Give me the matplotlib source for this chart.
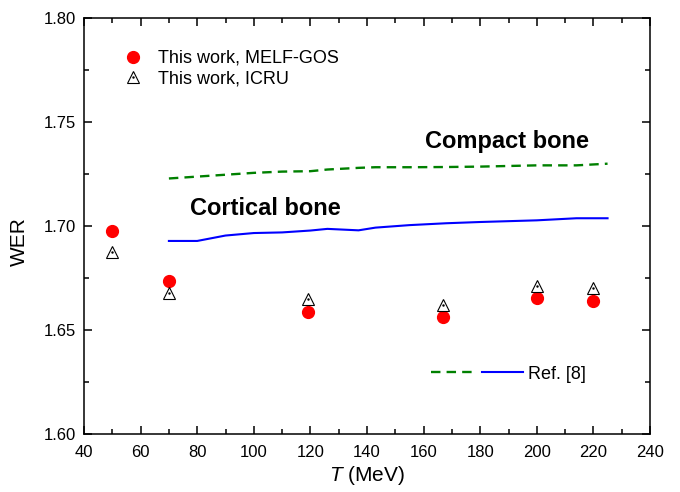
"""
WER vs proton energy for cortical / compact bone
"""
import matplotlib
matplotlib.use('Agg')
import matplotlib.pyplot as plt
from matplotlib.legend_handler import HandlerTuple
from matplotlib.ticker import MultipleLocator

plt.rcParams['font.family'] = ['Liberation Sans', 'DejaVu Sans']
plt.rcParams['mathtext.fontset'] = 'custom'
plt.rcParams['mathtext.it'] = 'Liberation Sans:italic'
plt.rcParams['mathtext.rm'] = 'Liberation Sans'

# --- this work (points) ---
T_pts     = [50, 70, 119, 167, 200, 220]
wer_melf  = [1.6976, 1.6735, 1.6588, 1.6563, 1.6652, 1.6638]
wer_icru  = [1.6874, 1.6675, 1.6650, 1.6618, 1.6712, 1.6700]

# --- Ref. [8] (lines) ---
T_ref        = [70, 80, 90, 100, 110, 120, 126, 137, 143, 155, 168, 180, 200, 214, 225]
wer_cortical = [1.6927, 1.6927, 1.6953, 1.6965, 1.6968, 1.6977, 1.6985, 1.6978,
                1.6991, 1.7003, 1.7012, 1.7018, 1.7026, 1.7036, 1.7036]
wer_compact  = [1.7227, 1.7236, 1.7245, 1.7254, 1.7260, 1.7262, 1.7270, 1.7278,
                1.7281, 1.7281, 1.7282, 1.7284, 1.7290, 1.7290, 1.7298]

fig = plt.figure(figsize=(6.8, 4.92), dpi=100)
ax = fig.add_axes([84/680, 1 - 434/492, 566/680, 416.5/492])

ln_comp, = ax.plot(T_ref, wer_compact, color='#008000', lw=1.7, ls=(0, (4, 2.6)))
ln_cort, = ax.plot(T_ref, wer_cortical, color='#0000ff', lw=1.5)

pt_melf, = ax.plot(T_pts, wer_melf, 'o', color='#ff0000', ms=8.5, mec='#ff0000', ls='none')
pt_icru, = ax.plot(T_pts, wer_icru, '^', mfc='white', mec='black', mew=0.8, ms=9, ls='none')
pt_dot,  = ax.plot(T_pts, wer_icru, '.', color='black', ms=1.5, ls='none')

ax.text(77.5, 1.7083, 'Cortical bone', fontsize=17, fontweight='bold', va='center', ha='left')
ax.text(160.5, 1.7403, 'Compact bone', fontsize=17, fontweight='bold', va='center', ha='left')

ax.set_xlim(40, 240)
ax.set_ylim(1.60, 1.80)
ax.xaxis.set_major_locator(MultipleLocator(20))
ax.xaxis.set_minor_locator(MultipleLocator(10))
ax.yaxis.set_major_locator(MultipleLocator(0.05))
ax.yaxis.set_minor_locator(MultipleLocator(0.025))
ax.yaxis.set_major_formatter(matplotlib.ticker.FormatStrFormatter('%.2f'))
ax.tick_params(which='both', direction='in', top=True, right=True, width=1.1, labelsize=12)
ax.tick_params(which='major', length=6, pad=6)
ax.tick_params(axis='x', which='major', pad=8)
ax.tick_params(which='minor', length=3.5)
for s in ax.spines.values():
    s.set_linewidth(1.1)

ax.set_xlabel(r'$T$ (MeV)', fontsize=15, labelpad=3)
ax.set_ylabel('WER', fontsize=15)
ax.yaxis.set_label_coords(-0.097, 0.463)

leg1 = ax.legend([pt_melf, (pt_icru, pt_dot)], ['This work, MELF-GOS', 'This work, ICRU'],
                 handler_map={tuple: HandlerTuple(ndivide=1)},
                 loc='upper left', bbox_to_anchor=(0.0707, 0.922), frameon=False,
                 fontsize=13, handlelength=1.0, handletextpad=0.9, labelspacing=0.2,
                 borderpad=0, borderaxespad=0)
ax.add_artist(leg1)

ax.legend([(ln_comp, ln_cort)], ['Ref. [8]'],
          handler_map={tuple: HandlerTuple(ndivide=None, pad=0.5)},
          loc='center left', bbox_to_anchor=(0.613, 0.144), frameon=False,
          fontsize=13, handlelength=5.1, handletextpad=0.3,
          borderpad=0, borderaxespad=0)

fig.savefig('out.png', dpi=100)
